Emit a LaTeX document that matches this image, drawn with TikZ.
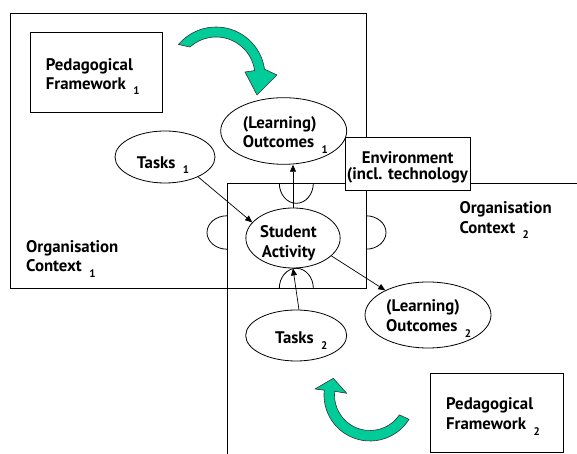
\documentclass[tikz,border=0pt]{standalone}
\usepackage{fontspec}
\setmainfont{PT Sans}
\usetikzlibrary{shapes.geometric,arrows.meta}
\definecolor{turngreen}{HTML}{00CC99}
\newcommand\subidx[1]{\hspace{7.5pt}\raisebox{-5.5pt}[0pt][0pt]{\fontsize{11}{11}\selectfont #1}}
\begin{document}
\begin{tikzpicture}[x=1pt,y=1pt,
  line/.style={line width=0.8pt},
  oval/.style={ellipse, draw, line width=0.8pt, fill=white, inner sep=0pt},
  panel/.style={rectangle, draw, line width=0.8pt, fill=white, inner sep=0pt},
  txt/.style={anchor=base west, inner sep=0pt, font=\fontsize{16.8}{19}\selectfont\bfseries},
  link/.style={-{Triangle[length=7pt,width=6pt]}, line width=0.7pt},
  turn/.style={fill=turngreen, draw=black!80, line width=0.6pt, line join=round}]
\useasboundingbox (0,0) rectangle (577,454);

% organisation context 1 (closed frame) and context 2 (open frame)
\draw[line] (10,166) rectangle (366,441);
\draw[line] (577,271) -- (227,271) -- (227,0);

% puzzle knobs on the shared region
\draw[line] (279.3,270.7) arc[start angle=180,end angle=360,x radius=17,y radius=20];
\draw[line] (279.3,165.7) arc[start angle=180,end angle=0,x radius=17,y radius=20];
\draw[line] (227,238.2) arc[start angle=90,end angle=270,x radius=20,y radius=16.7];
\draw[line] (366,238.2) arc[start angle=90,end angle=-90,x radius=20,y radius=16.7];

% curved green arrows
\filldraw[turn] ([shift={(140:49)}]216,378) arc[start angle=140,end angle=8,radius=49]
  -- (277,379) -- (257,359) -- (245,382)
  -- ([shift={(8:39)}]216,378) arc[start angle=8,end angle=132,radius=39] -- cycle;
\filldraw[turn] ([shift={(-32:46)}]370,59) arc[start angle=-32,end angle=-186,radius=46]
  -- (315,65) -- (333.3,75.7) -- (346.7,60.7)
  -- ([shift={(-186:35.5)}]370,59) arc[start angle=-186,end angle=-34,radius=35.5] -- cycle;

% boxes and ovals
\node[panel, minimum width=132, minimum height=80] (pf1) at (96,382) {};
\node[panel, minimum width=132.3, minimum height=79] (pf2) at (496.85,40.8) {};
\node[oval, minimum width=126, minimum height=66.6] (out1) at (283.7,323) {};
\node[oval, minimum width=100, minimum height=52] (t1) at (165,297) {};
\node[oval, minimum width=94.3, minimum height=60] (sa) at (293,216) {};
\node[oval, minimum width=126, minimum height=66] (out2) at (428,139) {};
\node[oval, minimum width=101, minimum height=51] (t2) at (296.2,118.5) {};
\node[panel, minimum width=125.7, minimum height=52.3] (env) at (407.85,290.15) {};

% connectors
\draw[link] (t1.-31) -- (sa.159);
\draw[link] (sa.north) -- (sa.north |- out1.south);
\draw[link] (sa.-25) -- (out2.150);
\draw[link] (t2.84) -- (sa.-90);

% labels
\node[txt] (pf1a) at (45.7,383.3) {Pedagogical};
\node[txt] (pf1b) at (45.7,364.7) {Framework\subidx{1}};
\node[txt] (pf2a) at (446,44) {Pedagogical};
\node[txt] (pf2b) at (446,24) {Framework\subidx{2}};
\node[txt] (oc1a) at (26,201.3) {Organisation};
\node[txt] (oc1b) at (26,182.3) {Context\subidx{1}};
\node[txt] (oc2a) at (459.3,240) {Organisation};
\node[txt] (oc2b) at (459.3,220.7) {Context\subidx{2}};
\node[txt] (enva) at (361.7,290) {Environment};
\node[txt] (envb) at (346.7,274) {(incl. technology};
\node[txt] (t1a) at (136.7,285.7) {Tasks\subidx{1}};
\node[txt] (out1a) at (242.7,325.7) {(Learning)};
\node[txt] (out1b) at (242.7,306.3) {Outcomes\subidx{1}};
\node[txt] (saa) at (260,216.7) {Student};
\node[txt] (sab) at (261.7,196.7) {Activity};
\node[txt] (out2a) at (386,142.3) {(Learning)};
\node[txt] (out2b) at (386,122.3) {Outcomes\subidx{2}};
\node[txt] (t2a) at (275,110) {Tasks\subidx{2}};
\end{tikzpicture}
\end{document}
